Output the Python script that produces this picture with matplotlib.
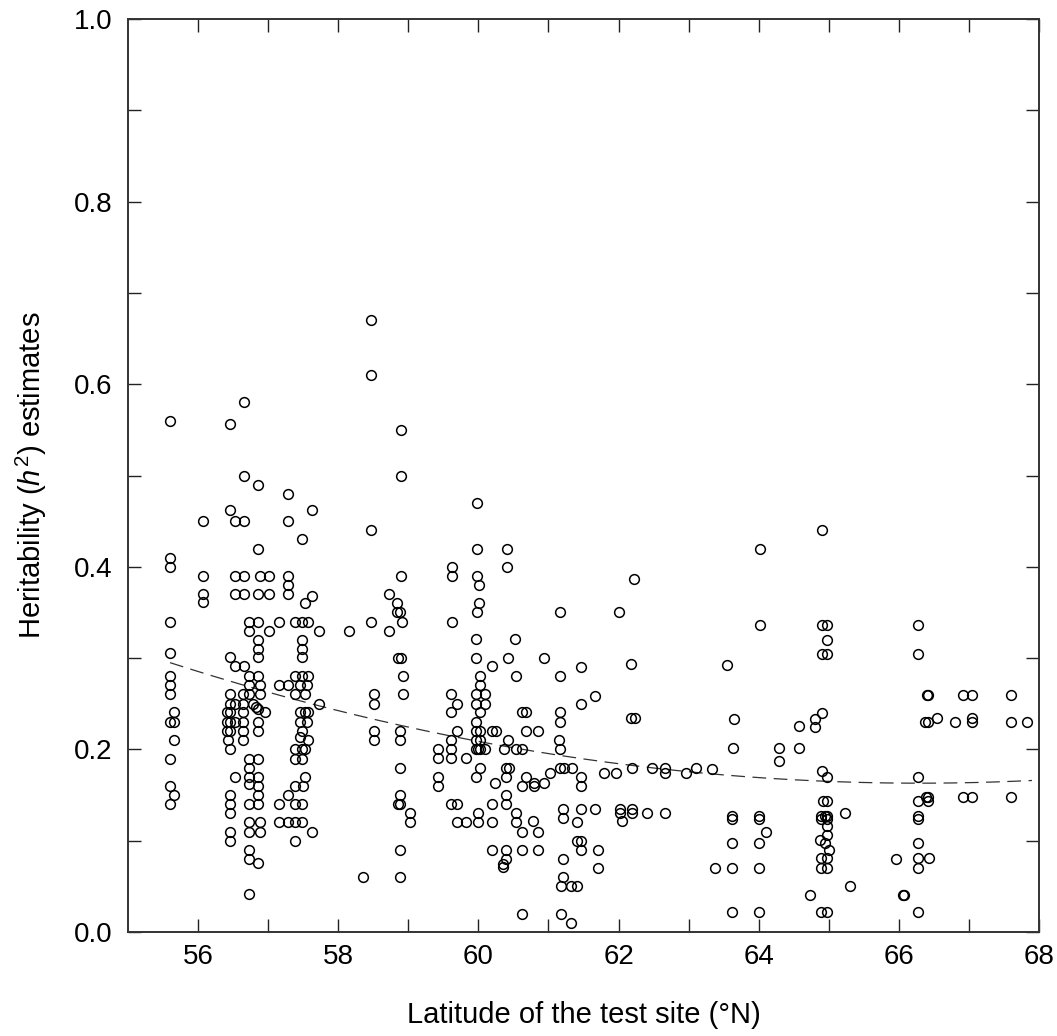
import numpy as np
import matplotlib
matplotlib.use("Agg")
import matplotlib.pyplot as plt
from matplotlib.ticker import MultipleLocator, FixedLocator

plt.rcParams['font.family'] = ['Liberation Sans', 'DejaVu Sans']
plt.rcParams['mathtext.fontset'] = 'custom'
plt.rcParams['mathtext.rm'] = 'Liberation Sans'
plt.rcParams['mathtext.it'] = 'Liberation Sans:italic'

# latitude (deg N) and h2 estimates
lat_south = [
    58.47, 58.47, 56.65, 55.60, 56.46, 56.65, 56.86, 57.28, 56.46, 56.07,
    56.52, 56.65, 57.28, 57.62, 57.49, 58.47, 56.86, 55.60, 55.60, 56.07,
    56.52, 56.65, 56.88, 57.01, 57.28, 57.28, 57.28, 56.07, 56.07, 56.52,
    56.65, 56.86, 57.01, 57.53, 57.62, 58.72, 55.60, 58.47, 58.73, 56.73,
    56.86, 56.73, 57.01, 57.15, 57.39, 57.49, 57.57, 57.72, 58.16, 56.86,
    57.49,
    56.86, 56.86, 57.49, 57.49, 55.60, 56.46, 56.52, 56.65, 56.73, 56.86,
    56.73, 56.88, 56.88, 56.82, 56.86, 56.95, 56.86, 56.86, 55.60, 55.60,
    55.60, 55.66, 55.60, 55.66, 55.66, 55.60, 55.60, 55.66, 55.60, 57.15,
    57.28, 57.39, 57.49, 57.57, 57.45, 57.55, 57.39, 57.53, 57.45, 57.53,
    57.57, 57.45, 57.55, 57.49, 57.45, 57.57, 57.39, 57.49, 57.53, 57.39,
    57.49, 57.53, 57.39, 57.50, 57.28, 57.15, 57.39, 57.49, 57.15, 57.28,
    57.39, 57.49, 57.62, 57.39, 57.72, 58.51, 58.51, 58.51, 58.51, 58.36,
    56.46, 56.46, 56.46, 56.46, 56.46, 56.41, 56.41, 56.43, 56.46, 56.64,
    56.64, 56.64, 56.64, 56.64, 56.64, 56.52, 56.52, 56.52, 56.46, 56.46,
    56.46, 56.46, 56.46, 56.73, 56.86, 56.73, 56.73, 56.86, 56.73, 56.86,
    56.86, 56.73, 56.86, 56.73, 56.88, 56.73, 56.88, 56.73, 56.73, 56.86,
    56.73, 56.41, 56.73, 56.78,
]
h2_south = [
    0.670, 0.610, 0.580, 0.560, 0.556, 0.500, 0.490, 0.480, 0.462, 0.450,
    0.450, 0.450, 0.450, 0.462, 0.430, 0.440, 0.420, 0.410, 0.400, 0.390,
    0.390, 0.390, 0.390, 0.390, 0.390, 0.380, 0.370, 0.370, 0.361, 0.370,
    0.370, 0.370, 0.370, 0.360, 0.368, 0.370, 0.340, 0.340, 0.330, 0.340,
    0.340, 0.330, 0.330, 0.340, 0.340, 0.340, 0.340, 0.330, 0.330, 0.320,
    0.320,
    0.310, 0.301, 0.310, 0.301, 0.306, 0.301, 0.291, 0.291, 0.280, 0.280,
    0.271, 0.271, 0.261, 0.246, 0.244, 0.241, 0.230, 0.220, 0.280, 0.271,
    0.261, 0.241, 0.230, 0.230, 0.210, 0.190, 0.160, 0.150, 0.140, 0.271,
    0.271, 0.280, 0.280, 0.280, 0.271, 0.271, 0.261, 0.261, 0.241, 0.241,
    0.241, 0.230, 0.230, 0.220, 0.214, 0.210, 0.200, 0.200, 0.200, 0.190,
    0.190, 0.170, 0.160, 0.160, 0.150, 0.140, 0.140, 0.140, 0.120, 0.120,
    0.120, 0.120, 0.110, 0.100, 0.250, 0.261, 0.250, 0.220, 0.210, 0.060,
    0.261, 0.250, 0.241, 0.230, 0.220, 0.241, 0.230, 0.210, 0.200, 0.261,
    0.250, 0.241, 0.230, 0.220, 0.210, 0.250, 0.230, 0.170, 0.150, 0.140,
    0.130, 0.110, 0.100, 0.190, 0.190, 0.180, 0.170, 0.170, 0.162, 0.160,
    0.150, 0.140, 0.140, 0.120, 0.120, 0.110, 0.110, 0.090, 0.080, 0.076,
    0.042, 0.220, 0.261, 0.250,
]

lat_mid = [
    58.90, 58.90, 59.98, 59.98, 60.41, 59.63, 59.63, 58.90, 59.98, 60.01,
    60.41, 62.22, 58.84, 58.84, 58.88, 58.91, 59.63, 59.98, 60.01, 61.16,
    62.01, 59.97, 60.52,
    58.85, 58.90, 59.97, 60.42, 60.93, 60.19, 58.92, 60.02, 60.53, 61.16,
    61.46, 62.18, 60.02, 58.92, 59.61, 59.97, 60.10, 59.70, 59.97, 60.10,
    61.67, 61.46, 59.61, 60.02, 60.62, 60.68, 61.17, 61.17, 62.18, 62.23,
    59.97, 58.88, 58.88, 59.70, 59.97, 60.02, 60.19, 60.25, 60.68, 60.85,
    59.61, 59.97, 60.02, 60.42, 61.15, 59.42, 59.61, 59.97, 60.00, 60.02,
    60.10, 60.37, 60.54, 60.62, 61.17, 59.42, 59.61, 59.83, 58.88, 60.02,
    60.39, 60.44, 61.17, 61.22, 61.34, 59.42, 59.42, 59.97, 60.39, 60.68,
    60.24, 60.62, 60.79, 60.80, 60.93, 61.02, 61.46, 61.46, 61.79, 61.97,
    62.19, 62.48, 62.67, 62.67, 62.96, 63.11, 58.88, 58.88, 58.85, 59.02,
    59.02, 59.61, 59.70, 59.70, 59.83, 60.00, 60.19, 60.00, 60.19, 60.40,
    60.40, 60.54, 60.54, 60.62, 60.78, 60.85, 61.21, 61.21, 61.46, 61.67,
    61.41, 62.02, 62.02, 62.05, 62.19, 62.19, 62.40, 62.67, 58.88, 58.88,
    60.19, 60.39, 60.62, 60.85, 60.39, 60.35, 60.35, 61.41, 61.46, 61.46,
    61.70, 61.70, 61.21, 61.21, 61.18, 61.32, 61.41, 60.62, 61.18, 61.32,
]
h2_mid = [
    0.550, 0.500, 0.470, 0.420, 0.420, 0.400, 0.390, 0.390, 0.390, 0.380,
    0.400, 0.387, 0.360, 0.350, 0.350, 0.340, 0.340, 0.350, 0.360, 0.350,
    0.351, 0.321, 0.321,
    0.300, 0.300, 0.300, 0.300, 0.300, 0.291, 0.280, 0.280, 0.280, 0.280,
    0.290, 0.294, 0.271, 0.261, 0.261, 0.261, 0.261, 0.250, 0.250, 0.250,
    0.259, 0.250, 0.241, 0.241, 0.241, 0.241, 0.241, 0.230, 0.234, 0.234,
    0.230, 0.220, 0.210, 0.220, 0.220, 0.220, 0.220, 0.220, 0.220, 0.220,
    0.210, 0.210, 0.210, 0.210, 0.210, 0.200, 0.200, 0.200, 0.200, 0.200,
    0.200, 0.200, 0.200, 0.200, 0.200, 0.191, 0.191, 0.191, 0.180, 0.180,
    0.180, 0.180, 0.180, 0.180, 0.180, 0.170, 0.160, 0.170, 0.170, 0.170,
    0.163, 0.160, 0.160, 0.163, 0.163, 0.174, 0.170, 0.160, 0.174, 0.174,
    0.180, 0.180, 0.180, 0.174, 0.174, 0.180, 0.150, 0.140, 0.140, 0.130,
    0.120, 0.140, 0.140, 0.120, 0.120, 0.120, 0.120, 0.130, 0.140, 0.150,
    0.140, 0.130, 0.120, 0.110, 0.122, 0.110, 0.135, 0.125, 0.135, 0.135,
    0.120, 0.135, 0.130, 0.122, 0.135, 0.130, 0.130, 0.130, 0.090, 0.060,
    0.090, 0.090, 0.090, 0.090, 0.080, 0.074, 0.071, 0.100, 0.100, 0.090,
    0.090, 0.070, 0.080, 0.060, 0.050, 0.050, 0.050, 0.020, 0.020, 0.010,
]

lat_north = [
    64.91, 64.02, 64.02, 64.91, 64.98, 64.98, 64.91, 64.98, 66.28, 66.28,
    63.55, 66.40, 66.42, 66.92, 67.05, 67.60, 63.65, 64.58, 64.80, 64.80,
    64.91, 66.38, 66.42, 66.55, 66.80, 67.05, 67.05, 67.60, 67.83,
    63.64, 64.29, 64.57, 64.29, 63.34, 64.91, 64.98, 66.27, 64.92, 64.98,
    66.27, 66.39, 66.42, 66.42, 66.92, 67.05, 67.60, 63.62, 63.62, 64.01,
    64.01, 64.89, 64.94, 64.98, 64.89, 64.98, 65.23, 66.27, 66.27, 64.98,
    64.10, 64.98, 63.62, 64.01, 64.87, 64.94, 65.01, 66.27, 64.89, 64.98,
    66.27, 66.43, 65.96, 63.37, 63.62, 64.01, 64.89, 64.98, 66.27, 65.31,
    64.73, 66.06, 66.08, 63.62, 64.01, 64.89, 64.98, 66.27,
]
h2_north = [
    0.440, 0.420, 0.336, 0.336, 0.336, 0.320, 0.304, 0.304, 0.336, 0.304,
    0.292, 0.260, 0.260, 0.260, 0.260, 0.260, 0.233, 0.226, 0.233, 0.224,
    0.240, 0.230, 0.230, 0.234, 0.230, 0.234, 0.230, 0.230, 0.230,
    0.202, 0.202, 0.202, 0.187, 0.179, 0.176, 0.170, 0.170, 0.144, 0.144,
    0.144, 0.148, 0.148, 0.144, 0.148, 0.148, 0.148, 0.127, 0.124, 0.127,
    0.124, 0.127, 0.127, 0.127, 0.124, 0.124, 0.130, 0.127, 0.124, 0.116,
    0.110, 0.106, 0.098, 0.098, 0.101, 0.098, 0.090, 0.098, 0.081, 0.081,
    0.081, 0.081, 0.080, 0.070, 0.070, 0.070, 0.070, 0.070, 0.070, 0.050,
    0.040, 0.040, 0.040, 0.022, 0.022, 0.022, 0.022, 0.022,
]

# quadratic trend (vertex form)
fit_vertex_lat = 66.3
fit_min_h2 = 0.163
fit_curv = 0.001153
fit_range = (55.6, 67.9)

lat = np.array(lat_south + lat_mid + lat_north)
h2 = np.array(h2_south + h2_mid + h2_north)

fig = plt.figure(figsize=(10.57, 10.36), dpi=100)
ax = fig.add_axes([128 / 1057, 104 / 1036, 911 / 1057, 913 / 1036])

ax.plot(lat, h2, 'o', ms=7.0, mfc='none', mec='black', mew=1.1, zorder=3)

xf = np.linspace(fit_range[0], fit_range[1], 300)
yf = fit_min_h2 + fit_curv * (xf - fit_vertex_lat) ** 2
ax.plot(xf, yf, color='#333333', lw=0.9, dashes=(11, 6), zorder=2)

ax.set_xlim(55, 68)
ax.set_ylim(0, 1.0)

ax.xaxis.set_major_locator(MultipleLocator(2))
ax.xaxis.set_minor_locator(FixedLocator([57, 59, 61, 63, 65, 67]))
ax.yaxis.set_major_locator(MultipleLocator(0.2))
ax.yaxis.set_minor_locator(FixedLocator([0.1, 0.3, 0.5, 0.7, 0.9]))
ax.xaxis.set_major_formatter(plt.FuncFormatter(lambda v, p: f"{v:.0f}"))
ax.yaxis.set_major_formatter(plt.FuncFormatter(lambda v, p: f"{v:.1f}"))

ax.tick_params(which='both', direction='in', length=9.5, width=1.0,
               top=True, right=True, colors='#222222')
ax.tick_params(axis='x', which='major', labelsize=20, pad=9, labelcolor='black')
ax.tick_params(axis='y', which='major', labelsize=20, pad=11, labelcolor='black')

for s in ax.spines.values():
    s.set_linewidth(1.4)
    s.set_color('#333333')

ax.set_xlabel('Latitude of the test site (°N)', fontsize=21, labelpad=22)
ax.set_ylabel(r'Heritability ($\mathit{h}^2$) estimates', fontsize=21, labelpad=18)

fig.savefig('out.png', dpi=100)
